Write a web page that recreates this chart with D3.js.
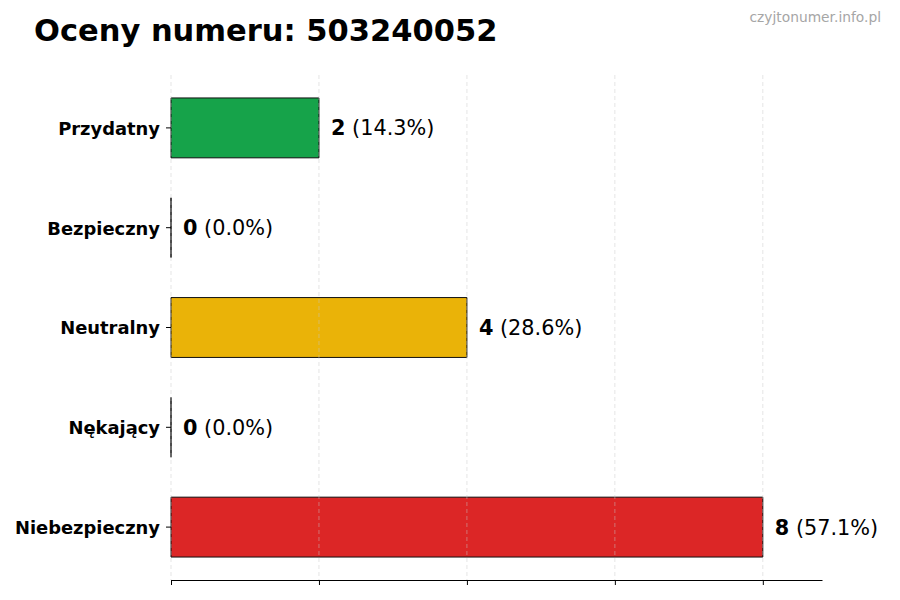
<!DOCTYPE html>
<html>
<head>
<meta charset="utf-8">
<script src="https://cdn.jsdelivr.net/npm/d3@7"></script>
<style>
  body { margin: 0; background: #fff; }
  text { font-family: "DejaVu Sans", sans-serif; }
</style>
</head>
<body>
<script>
// Dane wykresu
const categories = ["Przydatny", "Bezpieczny", "Neutralny", "Nękający", "Niebezpieczny"];
const counts = [2, 0, 4, 0, 8];
const percents = ["14.3%", "0.0%", "28.6%", "0.0%", "57.1%"];
const barColors = ["#16a34a", "#16a34a", "#eab308", "#dc2626", "#dc2626"];
const xTicks = [0, 2, 4, 6, 8];
const phone = "503240052";

const width = 900, height = 600;
const margin = { top: 75, right: 78, bottom: 20, left: 171 };

const svg = d3.select("body").append("svg")
    .attr("width", width)
    .attr("height", height);

svg.append("text")
    .attr("x", 34)
    .attr("y", 41)
    .attr("font-size", 30.5)
    .attr("font-weight", "bold")
    .text("Oceny numeru: " + phone);

svg.append("text")
    .attr("x", 881)
    .attr("y", 22)
    .attr("text-anchor", "end")
    .attr("font-size", 13.8)
    .attr("fill", "#a6a6a6")
    .text("czyjtonumer.info.pl");

const x = d3.scaleLinear()
    .domain([0, 8.8])
    .range([margin.left, width - margin.right]);

const y = d3.scaleBand()
    .domain(categories)
    .range([margin.top, height - margin.bottom])
    .paddingInner(0.4)
    .paddingOuter(0.23);

const g = svg.append("g");

// Słupki
g.selectAll("rect.bar")
    .data(categories)
    .enter()
    .append("rect")
    .attr("class", "bar")
    .attr("x", x(0))
    .attr("y", d => y(d))
    .attr("width", (d, i) => x(counts[i]) - x(0))
    .attr("height", y.bandwidth())
    .attr("fill", (d, i) => barColors[i]);

// Obramowanie (widoczne też dla zerowych słupków)
g.selectAll("path.edge")
    .data(categories)
    .enter()
    .append("path")
    .attr("class", "edge")
    .attr("d", (d, i) => {
        const x0 = x(0), x1 = x(counts[i]), y0 = y(d), y1 = y(d) + y.bandwidth();
        return `M${x0},${y0}H${x1}V${y1}H${x0}Z`;
    })
    .attr("fill", "none")
    .attr("stroke", "#111")
    .attr("stroke-width", 1);

// Siatka pionowa nad słupkami
g.selectAll("line.grid")
    .data(xTicks)
    .enter()
    .append("line")
    .attr("class", "grid")
    .attr("x1", d => x(d))
    .attr("x2", d => x(d))
    .attr("y1", margin.top)
    .attr("y2", height - margin.bottom)
    .attr("stroke", "#c8c8c8")
    .attr("stroke-opacity", 0.6)
    .attr("stroke-dasharray", "4,3")
    .attr("stroke-width", 0.8);

// Oś X (bez etykiet)
const xAxis = svg.append("g")
    .attr("transform", `translate(0,${height - margin.bottom})`)
    .call(d3.axisBottom(x).tickValues(xTicks).tickFormat("").tickSize(5).tickSizeOuter(0));
xAxis.select(".domain").attr("stroke", "#000").attr("stroke-width", 1);
xAxis.selectAll(".tick line").attr("stroke", "#000");

// Oś Y (bez linii)
const yAxis = svg.append("g")
    .attr("transform", `translate(${margin.left},0)`)
    .call(d3.axisLeft(y).tickSize(5).tickPadding(6));
yAxis.select(".domain").remove();
yAxis.selectAll(".tick line").attr("stroke", "#000");
yAxis.selectAll(".tick text")
    .attr("font-size", 17.9)
    .attr("font-weight", "bold")
    .attr("fill", "#000")
    .attr("dy", "0.38em")
    .attr("font-family", "DejaVu Sans, sans-serif");

// Etykiety wartości
const labels = g.selectAll("text.val")
    .data(categories)
    .enter()
    .append("text")
    .attr("class", "val")
    .attr("x", (d, i) => x(counts[i]) + 12)
    .attr("y", d => y(d) + y.bandwidth() / 2)
    .attr("dy", "0.36em")
    .attr("font-size", 20.8);
labels.append("tspan")
    .attr("font-weight", "bold")
    .text((d, i) => counts[i]);
labels.append("tspan")
    .text((d, i) => " (" + percents[i] + ")");
</script>
</body>
</html>
